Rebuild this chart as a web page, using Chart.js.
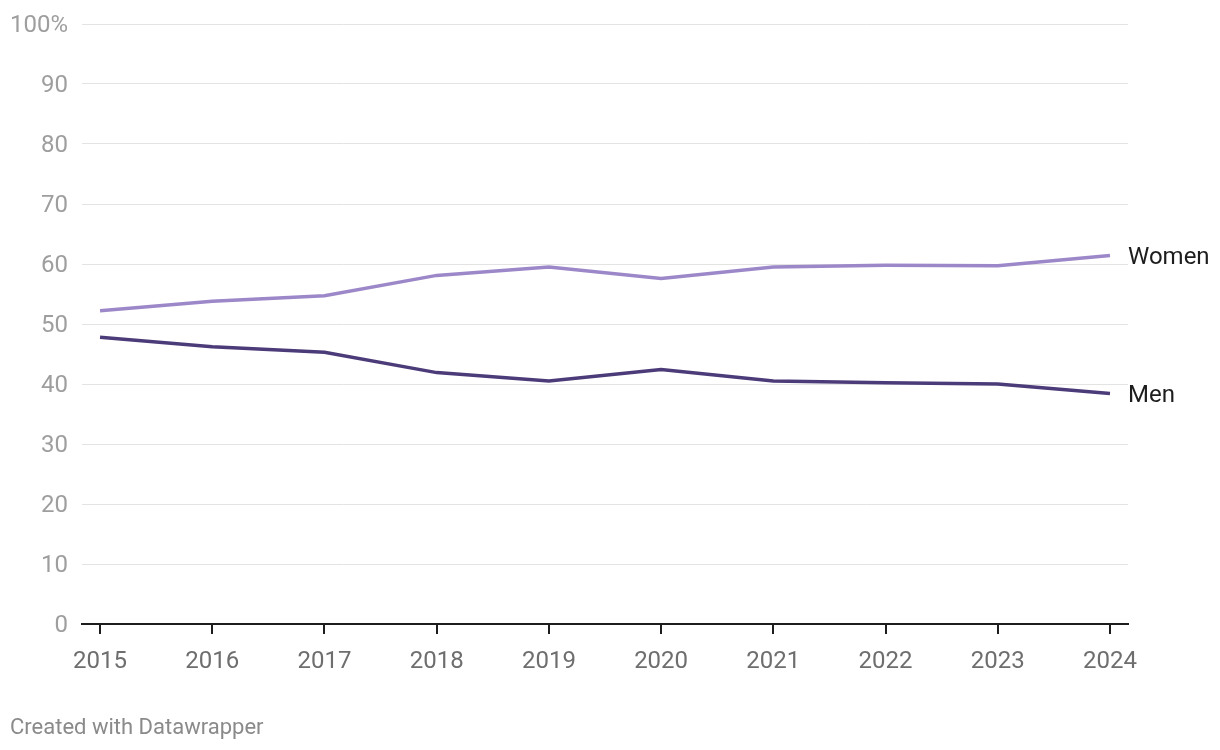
<!DOCTYPE html>
<html>
<head>
<meta charset="utf-8">
<script src="https://cdn.jsdelivr.net/npm/chart.js@4/dist/chart.umd.min.js"></script>
<style>
  html, body { margin: 0; padding: 0; background: #fff; }
  #wrap { width: 1220px; height: 750px; position: relative; }
</style>
</head>
<body>
<div id="wrap"><canvas id="chart" width="1220" height="750"></canvas></div>
<script>
var years = [2015, 2016, 2017, 2018, 2019, 2020, 2021, 2022, 2023, 2024];
var women = [52.2, 53.8, 54.7, 58.1, 59.5, 57.6, 59.5, 59.8, 59.7, 61.4];
var men = [47.8, 46.2, 45.3, 41.9, 40.5, 42.4, 40.5, 40.2, 40.0, 38.4];
var yTicks = [0, 10, 20, 30, 40, 50, 60, 70, 80, 90, 100];

function pts(vals) {
  return vals.map(function(v, i) { return { x: years[i], y: v }; });
}

// labels at the end of each line + footer
var endLabels = {
  id: 'endLabels',
  afterDraw: function(chart) {
    var ctx = chart.ctx;
    ctx.save();
    ctx.font = '24px Roboto';
    ctx.fillStyle = '#1d1d1d';
    ctx.textBaseline = 'middle';
    ctx.textAlign = 'left';
    chart.data.datasets.forEach(function(ds, i) {
      var meta = chart.getDatasetMeta(i);
      var last = meta.data[meta.data.length - 1];
      ctx.fillText(ds.label, last.x + 18, last.y + 2);
    });
    ctx.font = '22px Roboto';
    ctx.fillStyle = '#8a8a8a';
    ctx.fillText('Created with Datawrapper', 10, 728);
    ctx.restore();
  }
};

var ctx = document.getElementById('chart');
var chart = new Chart(ctx, {
  type: 'line',
  data: {
    datasets: [
      {
        label: 'Women',
        data: pts(women),
        borderColor: '#9c88c9',
        borderWidth: 3.5,
        pointRadius: 0,
        fill: false
      },
      {
        label: 'Men',
        data: pts(men),
        borderColor: '#4c3b79',
        borderWidth: 3.5,
        pointRadius: 0,
        fill: false
      }
    ]
  },
  options: {
    responsive: false,
    animation: false,
    layout: { padding: { top: 24, right: 92, bottom: 0, left: 0 } },
    plugins: {
      legend: { display: false },
      tooltip: { enabled: false }
    },
    scales: {
      x: {
        type: 'linear',
        min: 2015 - 18 / 112,
        max: 2024 + 18 / 112,
        afterBuildTicks: function(s) { s.ticks = years.map(function(v) { return { value: v }; }); },
        afterFit: function(s) { s.height = 126; s.paddingLeft = 0; s.paddingRight = 0; },
        border: { display: true, color: '#1d1d1d', width: 2 },
        grid: { drawOnChartArea: false, drawTicks: true, tickLength: 10, color: '#1d1d1d', lineWidth: 2 },
        ticks: {
          color: '#6e6e6e',
          font: { family: 'Roboto', size: 24 },
          padding: 14,
          maxRotation: 0,
          autoSkip: false,
          callback: function(v) { return String(v); }
        }
      },
      y: {
        min: 0,
        max: 100,
        afterBuildTicks: function(s) { s.ticks = yTicks.map(function(v) { return { value: v }; }); },
        afterFit: function(s) { s.width = 82; s.paddingTop = 0; s.paddingBottom = 0; },
        border: { display: false },
        grid: { color: '#e3e3e3', lineWidth: 1, drawTicks: false },
        ticks: {
          color: '#9e9e9e',
          font: { family: 'Roboto', size: 24 },
          padding: 14,
          labelOffset: 2,
          callback: function(v) { return v === 100 ? '100%' : String(v); }
        }
      }
    }
  },
  plugins: [endLabels]
});
</script>
</body>
</html>
